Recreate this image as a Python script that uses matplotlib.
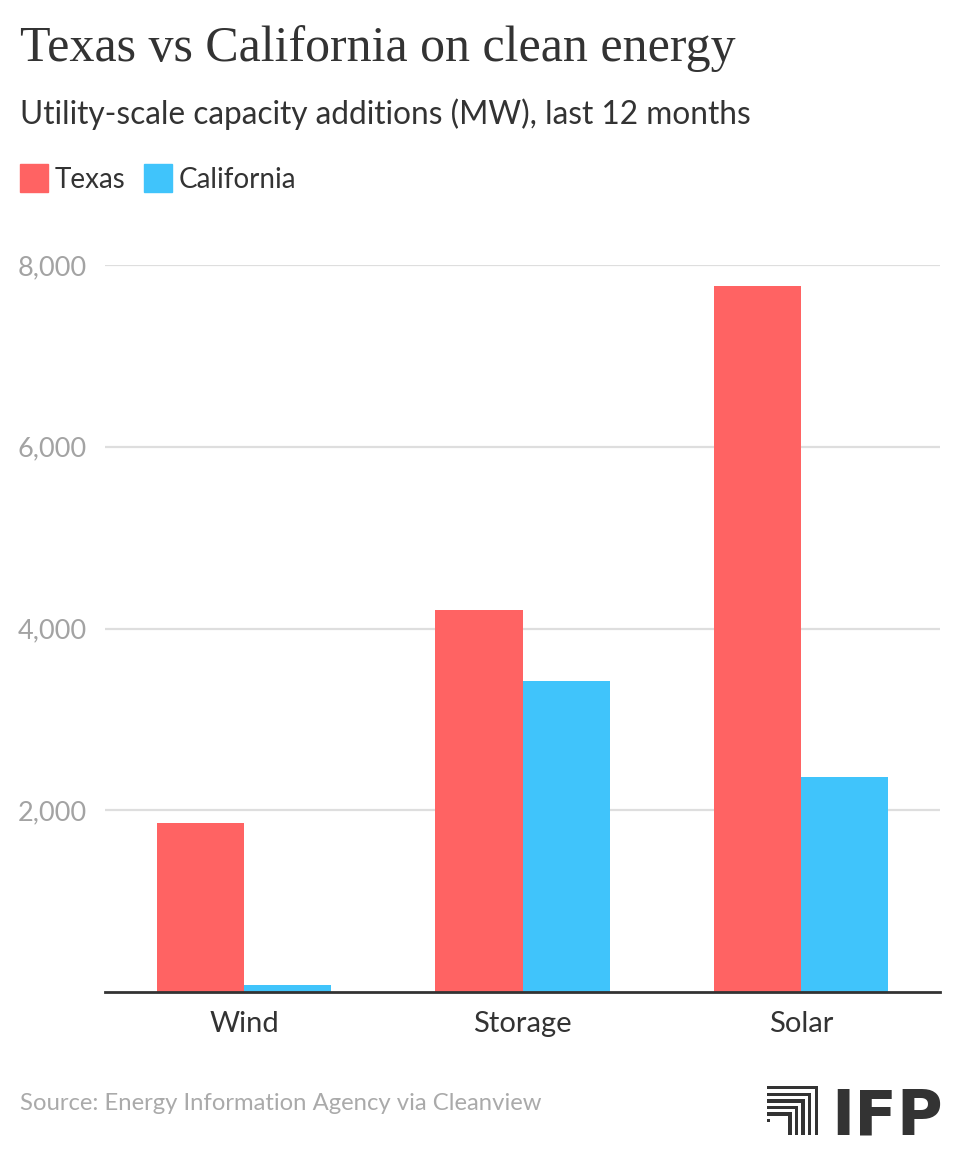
import matplotlib
matplotlib.use("Agg")
import matplotlib.pyplot as plt
import numpy as np
from matplotlib.patches import Rectangle
from matplotlib.ticker import FuncFormatter

# data (MW)
categories = ["Wind", "Storage", "Solar"]
series_names = ["Texas", "California"]
texas = [1860, 4200, 7770]
california = [80, 3420, 2370]
yticks = [2000, 4000, 6000, 8000]

RED = "#ff6363"
BLUE = "#40c4fb"
DARK = "#333333"
GREY = "#a3a3a3"

SANS = ["Lato", "DejaVu Sans"]
SERIF = ["Liberation Serif", "DejaVu Serif"]

W, H = 960, 1156
fig = plt.figure(figsize=(W / 100, H / 100), dpi=100)


def fx(px):
    return px / W


def fy(py):
    return 1 - py / H


# header
fig.text(fx(20), fy(61), "Texas vs California on clean energy", family=SERIF,
         fontsize=36, color=DARK, va="baseline", ha="left")
fig.text(fx(20), fy(124), "Utility-scale capacity additions (MW), last 12 months",
         family=SANS, fontsize=22.8, color=DARK, va="baseline", ha="left")

# legend
lx = 20
for name, col in zip(series_names, [RED, BLUE]):
    fig.patches.append(Rectangle((fx(lx), fy(192)), fx(28), 28 / H, color=col,
                                 transform=fig.transFigure, figure=fig))
    fig.text(fx(lx + 35), fy(187.5), name, family=SANS, fontsize=20,
             color=DARK, va="baseline", ha="left")
    lx = 144

# main axes
ax = fig.add_axes([fx(105), fy(992), fx(940 - 105), (992 - 265) / H])
x = np.arange(len(categories))
bw = 0.313
ax.bar(x - bw / 2, texas, width=bw, color=RED, label="Texas")
ax.bar(x + bw / 2, california, width=bw, color=BLUE, label="California")

ax.set_xlim(-0.5, 2.5)
ax.set_ylim(0, 8000)
ax.set_yticks(yticks)
ax.yaxis.set_major_formatter(FuncFormatter(lambda v, p: f"{int(v):,}"))
ax.set_xticks(x)
ax.set_xticklabels(categories)
ax.grid(axis="y", color="#dedede", linewidth=1.6)
ax.set_axisbelow(True)
for s in ["top", "right", "left"]:
    ax.spines[s].set_visible(False)
ax.spines["bottom"].set_color(DARK)
ax.spines["bottom"].set_linewidth(2)
ax.spines["bottom"].set_zorder(5)
ax.tick_params(axis="y", length=0, pad=13, labelsize=19.5, labelcolor=GREY)
ax.tick_params(axis="x", length=0, pad=14, labelsize=21, labelcolor=DARK)
for lab in ax.get_yticklabels() + ax.get_xticklabels():
    lab.set_family(SANS)

# footer
fig.text(fx(20), fy(1110), "Source: Energy Information Agency via Cleanview",
         family=SANS, fontsize=17.2, color="#aaaaaa", va="baseline", ha="left")

# logo: nested corner marks + IFP
lax = fig.add_axes([fx(760), fy(1142), fx(185), 64 / H])
lax.set_xlim(760, 945)
lax.set_ylim(1142, 1078)
lax.axis("off")
right, top, bottom = 818, 1086, 1135
step, lw = 6.6, 3.3
for i in range(5):
    r = right - i * step
    t = top + i * step
    lax.add_patch(Rectangle((767, t), r - 767, lw, color=DARK, lw=0))
    lax.add_patch(Rectangle((r - lw, t), lw, bottom - t, color=DARK, lw=0))
lax.add_patch(Rectangle((767, 1086 + 5 * step), lw, lw, color=DARK, lw=0))
lax.text(831, 1134.5, "IFP", family=["DejaVu Sans"], fontweight="bold",
         fontsize=45, color=DARK, va="baseline", ha="left")

fig.savefig("out.png", dpi=100, facecolor="white")
